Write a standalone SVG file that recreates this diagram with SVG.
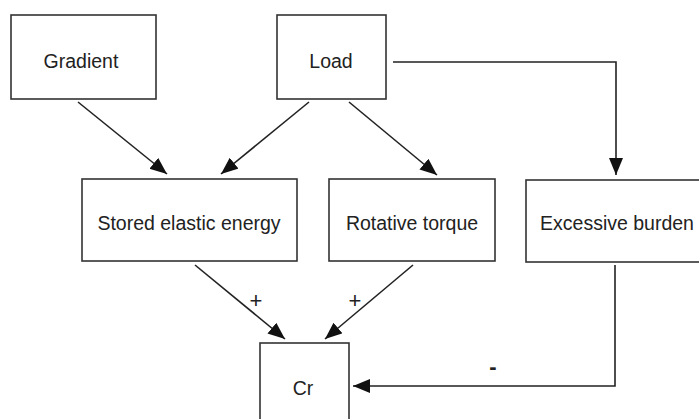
<svg xmlns="http://www.w3.org/2000/svg" width="699" height="419" viewBox="0 0 699 419">
<style>
.box{fill:#fff;stroke:#333;stroke-width:1.6}
.lbl{font-family:"Liberation Sans",Arial,sans-serif;font-size:19.5px;fill:#222;text-anchor:middle}
.sign{font-family:"Liberation Sans",Arial,sans-serif;font-size:22px;fill:#222;text-anchor:middle}
.edge{fill:none;stroke:#222;stroke-width:1.6}
</style>
<defs>
<marker id="arr" markerUnits="userSpaceOnUse" markerWidth="18" markerHeight="16" refX="17" refY="7" orient="auto">
<path d="M0,0 L17,7 L0,14 z" fill="#111"/>
</marker>
</defs>
<rect width="699" height="419" fill="#fff"/>
<g id="gradient"><rect class="box" x="11" y="15" width="145" height="84"/><text class="lbl" x="81" y="68">Gradient</text></g>
<g id="load"><rect class="box" x="277" y="15" width="109" height="84"/><text class="lbl" x="331" y="68">Load</text></g>
<g id="stored"><rect class="box" x="82" y="179" width="215" height="82"/><text class="lbl" x="189" y="230">Stored elastic energy</text></g>
<g id="rotative"><rect class="box" x="329" y="179" width="166" height="82"/><text class="lbl" x="412" y="230">Rotative torque</text></g>
<g id="excessive"><rect class="box" x="526" y="180" width="180" height="82"/><text class="lbl" x="617" y="230">Excessive burden</text></g>
<g id="cr"><rect class="box" x="260" y="343" width="89" height="90"/><text class="lbl" x="303" y="395">Cr</text></g>
<g id="connectors">
<line class="edge" x1="78" y1="102" x2="167" y2="174" marker-end="url(#arr)"/>
<line class="edge" x1="309" y1="102" x2="221" y2="174" marker-end="url(#arr)"/>
<line class="edge" x1="349" y1="102" x2="437" y2="175" marker-end="url(#arr)"/>
<polyline class="edge" points="393,62 616,62 616,175" marker-end="url(#arr)"/>
<line class="edge" x1="195" y1="265" x2="285" y2="339" marker-end="url(#arr)"/>
<line class="edge" x1="413" y1="265" x2="325" y2="339" marker-end="url(#arr)"/>
<polyline class="edge" points="615,265 615,386 353,386" marker-end="url(#arr)"/>
<text class="sign" x="256" y="308">+</text>
<text class="sign" x="355" y="308">+</text>
<text class="sign" x="493" y="374" font-weight="bold">-</text>
</g>
</svg>
